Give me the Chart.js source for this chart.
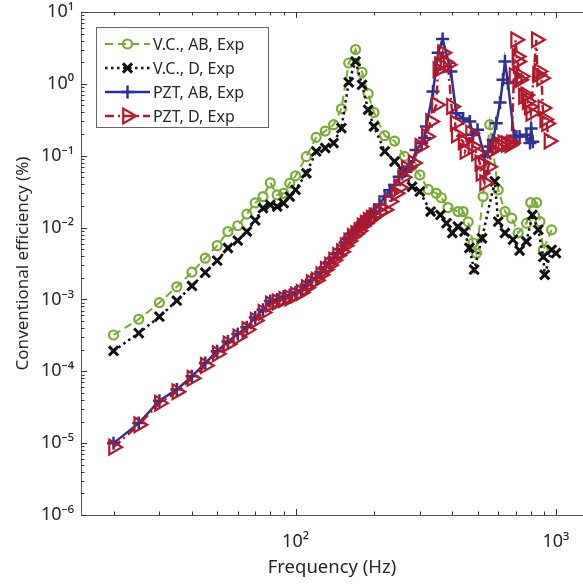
<!DOCTYPE html>
<html><head><meta charset="utf-8">
<script src="https://cdn.jsdelivr.net/npm/chart.js@4/dist/chart.umd.min.js"></script>
<style>html,body{margin:0;padding:0;background:#fff;overflow:hidden}</style>
</head><body>
<canvas id="c" width="583" height="585" style="display:block;width:583px;height:585px"></canvas>
<script>
// ---- data ----
const vcAbFreq = [20,25,30,35,40,45,50,55,60,65,70,75,80,85,90,95,100,110,120,130,140,150,160,170,180,190,200,220,240,262,280,300,323,347,363,385,421,440,460,480,495,525,557,600,637,676,716,771,800,843,868,894,962];
const vcAbEff  = [3.2e-4,5.3e-4,9.0e-4,1.5e-3,2.4e-3,3.75e-3,5.6e-3,8.8e-3,1.06e-2,1.54e-2,2.2e-2,2.7e-2,4.2e-2,2.85e-2,3.0e-2,4.15e-2,5.25e-2,9.7e-2,0.18,0.22,0.27,0.45,1.95,3.0,1.45,0.73,0.40,0.19,0.16,0.098,0.072,0.054,0.034,0.030,0.026,0.019,0.0167,0.0167,0.012,0.0061,0.0044,0.027,0.27,0.0335,0.0167,0.0135,0.0084,0.0115,0.0223,0.0223,0.0121,0.0049,0.0093];

const vcDFreq = [20,25,30,35,40,45,50,55,60,65,70,75,80,85,90,95,100,110,120,130,140,150,160,170,180,190,200,220,240,260,280,300,330,360,380,400,420,445,465,485,520,582,600,637,684,725,770,812,855,894,905,962,1000];
const vcDEff  = [1.92e-4,3.4e-4,5.75e-4,9.6e-4,1.54e-3,2.36e-3,3.47e-3,5.2e-3,6.6e-3,8.8e-3,0.0126,0.0186,0.0207,0.0196,0.0219,0.027,0.0335,0.057,0.115,0.128,0.15,0.242,1.05,2.05,0.97,0.435,0.255,0.115,0.083,0.06,0.037,0.0317,0.0167,0.015,0.0115,0.0084,0.0103,0.0088,0.0052,0.0026,0.0071,0.044,0.0121,0.0084,0.0068,0.0048,0.0064,0.015,0.0093,0.0039,0.0022,0.0049,0.0044];

const pztAbFreq = [20,25,30,35,40,45,50,55,60,65,70,75,80,85,90,95,100,105,110,115,120,125,130,135,140,145,150,155,160,165,170,175,180,185,190,195,200,210,220,230,240,250,260,278,290,305,313,318,337,353,367,395,414,440,467,480,500,532,557,574,590,610,626,637,654,690,705,725,770,795,803,815];
const pztAbEff  = [1.0e-5,1.9e-5,3.9e-5,5.6e-5,8.5e-5,1.3e-4,1.9e-4,2.6e-4,3.3e-4,4.1e-4,5.6e-4,7.2e-4,9.5e-4,1.0e-3,1.1e-3,1.15e-3,1.25e-3,1.35e-3,1.6e-3,1.85e-3,2.0e-3,2.4e-3,2.8e-3,3.3e-3,3.8e-3,4.4e-3,5.0e-3,6.2e-3,7.2e-3,8.3e-3,9.2e-3,0.0102,0.0118,0.013,0.0142,0.0155,0.0168,0.021,0.027,0.033,0.039,0.051,0.06,0.071,0.12,0.15,0.176,0.255,0.78,2.7,4.2,1.49,0.39,0.33,0.30,0.195,0.23,0.0975,0.134,0.166,0.284,0.55,1.14,2.05,1.03,0.19,0.185,0.185,0.195,0.15,0.24,0.157];

const pztDFreq = [20,25,30,35,40,45,50,55,60,65,70,75,80,85,90,95,100,105,110,115,120,125,130,135,140,145,150,155,160,165,170,175,180,185,190,195,200,210,220,230,243,250,258,266,283,300,318,330,347,352,357,367,375,385,397,410,414,440,447,470,480,495,510,515,532,550,570,590,610,625,645,665,675,690,700,708,712,725,735,750,765,775,790,800,840,850,860,880,890,905,920,940];
const pztDEff  = [8.8e-6,1.8e-5,3.6e-5,5.2e-5,8.0e-5,1.2e-4,1.75e-4,2.4e-4,3.0e-4,3.8e-4,5.1e-4,6.6e-4,8.6e-4,9.2e-4,1.0e-3,1.05e-3,1.15e-3,1.25e-3,1.45e-3,1.7e-3,1.85e-3,2.2e-3,2.6e-3,3.0e-3,3.5e-3,4.1e-3,4.6e-3,5.6e-3,6.5e-3,7.5e-3,8.2e-3,9.0e-3,0.0105,0.0115,0.0125,0.0135,0.0145,0.0165,0.0177,0.023,0.030,0.036,0.05,0.067,0.079,0.134,0.185,0.30,0.51,1.57,1.85,2.7,2.0,1.85,0.485,0.285,0.195,0.157,0.115,0.206,0.134,0.109,0.079,0.057,0.042,0.07,0.12,0.134,0.14,0.15,0.145,0.142,0.15,1.3,4.1,2.4,2.05,1.14,1.27,0.67,0.7,0.57,0.48,0.39,4.1,1.34,1.49,1.2,0.46,0.32,0.28,0.16];

const seriesLabels = ['V.C., AB, Exp','V.C., D, Exp','PZT, AB, Exp','PZT, D, Exp'];
const xTickValues = [100, 1000];
const xTickLabels = ['10\u00B2','10\u00B3'];
const yTickValues = [1e-6,1e-5,1e-4,1e-3,1e-2,1e-1,1,10];
const yTickLabels = ['10\u207B\u2076','10\u207B\u2075','10\u207B\u2074','10\u207B\u00B3','10\u207B\u00B2','10\u207B\u00B9','10\u2070','10\u00B9'];

const FONT = "'Noto Sans', 'Open Sans', 'DejaVu Sans', sans-serif";
const TXT = '#262626';
const GREEN = '#77AC30', BLACK = '#111111', BLUE = '#2E3192', RED = '#B2182B';

function pts(fx, fy){ return fx.map((f,i)=>({x:f, y:fy[i]})); }
function lbl(values, labels){
  return function(v){
    const i = values.findIndex(t => Math.abs(Math.log10(t) - Math.log10(v)) < 1e-6);
    return i >= 0 ? labels[i] : '';
  };
}

const datasets = [
  {label:seriesLabels[0], data:pts(vcAbFreq,vcAbEff), borderColor:GREEN, backgroundColor:'rgba(0,0,0,0)',
   borderWidth:2, borderDash:[8,5], pointStyle:'circle', pointRadius:4.5, pointBorderWidth:2.2, pointBorderColor:GREEN, pointBackgroundColor:'rgba(0,0,0,0)', order:4},
  {label:seriesLabels[1], data:pts(vcDFreq,vcDEff), borderColor:BLACK, backgroundColor:'rgba(0,0,0,0)',
   borderWidth:2.5, borderDash:[2.5,3.5], pointStyle:'crossRot', pointRadius:6.5, pointBorderWidth:3, pointBorderColor:BLACK, order:3},
  {label:seriesLabels[2], data:pts(pztAbFreq,pztAbEff), borderColor:BLUE, backgroundColor:'rgba(0,0,0,0)',
   borderWidth:2.5, pointStyle:'cross', pointRadius:6.5, pointBorderWidth:2.5, pointBorderColor:BLUE, order:2},
  {label:seriesLabels[3], data:pts(pztDFreq,pztDEff), borderColor:RED, backgroundColor:'rgba(0,0,0,0)',
   borderWidth:2.5, borderDash:[9,4,2,4], pointStyle:'triangle', pointRotation:90, pointRadius:8.5, pointBorderWidth:2.2, pointBorderColor:RED, pointBackgroundColor:'rgba(0,0,0,0)', order:1}
];
datasets.forEach(d => { d.showLine = true; d.fill = false; d.tension = 0; d.clip = 8; });

function marker(ctx, style, x, y, r, rot){
  ctx.beginPath();
  if (style === 'circle') { ctx.arc(x, y, r, 0, Math.PI*2); }
  else if (style === 'crossRot') { const d = r*Math.SQRT1_2; ctx.moveTo(x-d,y-d); ctx.lineTo(x+d,y+d); ctx.moveTo(x+d,y-d); ctx.lineTo(x-d,y+d); }
  else if (style === 'cross') { ctx.moveTo(x-r,y); ctx.lineTo(x+r,y); ctx.moveTo(x,y-r); ctx.lineTo(x,y+r); }
  else if (style === 'triangle') {
    let a = (rot||0)*Math.PI/180;
    for (let k=0;k<3;k++){ const px = x + Math.sin(a)*r, py = y - Math.cos(a)*r; k?ctx.lineTo(px,py):ctx.moveTo(px,py); a += 2*Math.PI/3; }
    ctx.closePath();
  }
  ctx.stroke();
}

const framePlugin = {
  id:'frame',
  afterDraw(chart){
    const ctx = chart.ctx, a = chart.chartArea, sx = chart.scales.x, sy = chart.scales.y;
    ctx.save();
    ctx.strokeStyle = '#555'; ctx.lineWidth = 1; ctx.setLineDash([]);
    ctx.beginPath();
    ctx.moveTo(a.left+0.5, a.top+0.5); ctx.lineTo(a.left+0.5, a.bottom+0.5); ctx.lineTo(a.right+2, a.bottom+0.5);
    ctx.moveTo(a.left+0.5, a.top+0.5); ctx.lineTo(a.right+2, a.top+0.5);
    ctx.stroke();
    ctx.strokeStyle = '#333';
    ctx.beginPath();
    for (let e=1; e<=3; e++) for (let m=1; m<=9; m++){
      const v = m*Math.pow(10,e); if (v < sx.min || v > sx.max) continue;
      const px = Math.round(sx.getPixelForValue(v))+0.5, len = m===1?6:3.5;
      ctx.moveTo(px, a.bottom); ctx.lineTo(px, a.bottom-len);
      ctx.moveTo(px, a.top); ctx.lineTo(px, a.top+len);
    }
    for (let e=-6; e<=1; e++) for (let m=1; m<=9; m++){
      const v = m*Math.pow(10,e); if (v < sy.min*0.999 || v > sy.max*1.001) continue;
      const py = Math.round(sy.getPixelForValue(v))+0.5, len = m===1?6:3.5;
      ctx.moveTo(a.left, py); ctx.lineTo(a.left+len, py);
    }
    ctx.stroke();
    // legend
    const L = 96, T = 27, W = 172, H = 100;
    ctx.fillStyle = '#fff'; ctx.fillRect(L, T, W, H);
    ctx.strokeStyle = '#666'; ctx.lineWidth = 1;
    ctx.strokeRect(L+0.5, T+0.5, W, H);
    chart.data.datasets.forEach((d, i) => {
      const y = 44 + i*24;
      ctx.strokeStyle = d.borderColor; ctx.lineWidth = d.borderWidth;
      ctx.setLineDash(d.borderDash || []);
      ctx.beginPath(); ctx.moveTo(105, y); ctx.lineTo(150, y); ctx.stroke();
      ctx.setLineDash([]); ctx.lineWidth = d.pointBorderWidth;
      marker(ctx, d.pointStyle, 127.5, y, d.pointRadius, d.pointRotation);
      ctx.fillStyle = TXT; ctx.font = "16px " + FONT; ctx.textBaseline = 'middle'; ctx.textAlign = 'left';
      ctx.fillText(d.label, 153, y+1);
    });
    ctx.restore();
  }
};

new Chart(document.getElementById('c'), {
  type:'scatter',
  data:{datasets},
  options:{
    responsive:false, animation:false, devicePixelRatio:1,
    layout:{autoPadding:false, padding:{top:12, right:0, left:0, bottom:0}},
    plugins:{legend:{display:false}, tooltip:{enabled:false}},
    scales:{
      x:{type:'logarithmic', min:15, max:1270,
         afterFit(s){ s.height = 70; s.paddingLeft = 0; s.paddingRight = 0; },
         grid:{display:false, drawTicks:false}, border:{display:false},
         ticks:{autoSkip:false, maxRotation:0, padding:16, color:TXT, font:{family:FONT, size:18}, callback:lbl(xTickValues,xTickLabels)},
         title:{display:true, text:'Frequency (Hz)', color:TXT, font:{family:FONT, size:18.5}, padding:{top:0, bottom:6}}},
      y:{type:'logarithmic', min:1e-6, max:10,
         afterFit(s){ s.width = 81; s.paddingTop = 0; s.paddingBottom = 0; },
         grid:{display:false, drawTicks:false}, border:{display:false},
         ticks:{autoSkip:false, padding:7, color:TXT, font:{family:FONT, size:18}, callback:lbl(yTickValues,yTickLabels)},
         title:{display:true, text:'Conventional efficiency (%)', color:TXT, font:{family:FONT, size:17}, padding:{top:13, bottom:0}}}
    }
  },
  plugins:[framePlugin]
});
</script>
</body></html>
